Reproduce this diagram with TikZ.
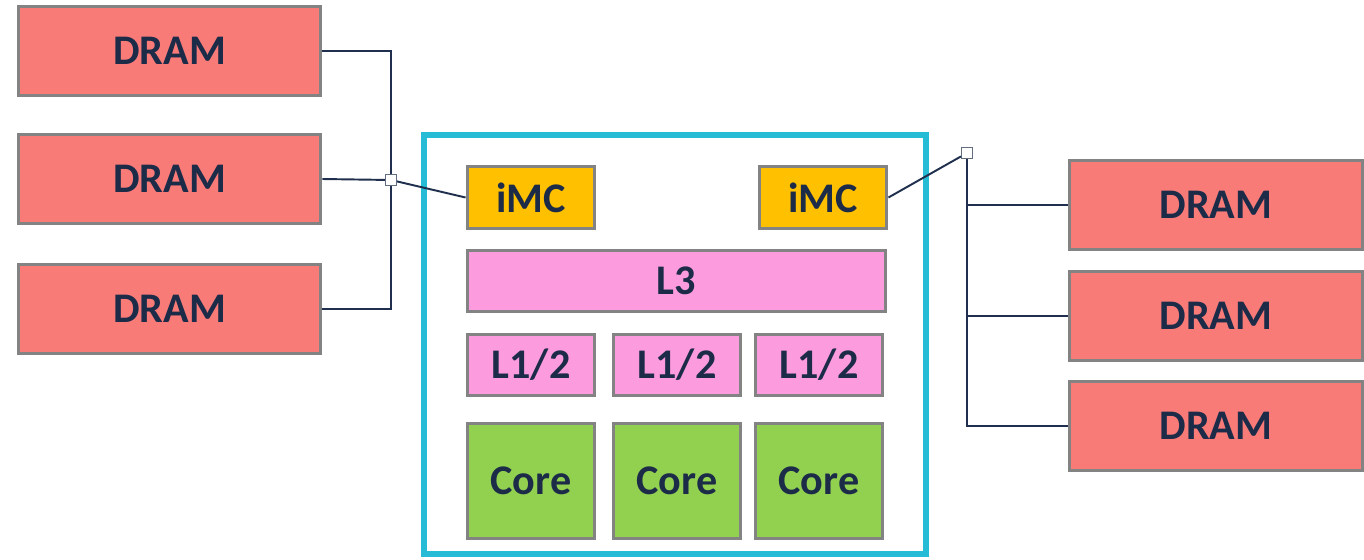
\documentclass[tikz,border=0pt]{standalone}
\usepackage{fontspec}
\setmainfont{Carlito}
\usepackage{xcolor,tikz}
\usetikzlibrary{positioning}
\definecolor{ChipCyan}{HTML}{27BCD6}
\definecolor{BoxGray}{HTML}{838383}
\definecolor{DramRed}{HTML}{F97B78}
\definecolor{ImcGold}{HTML}{FFC000}
\definecolor{CachePink}{HTML}{FD9BDF}
\definecolor{CoreGreen}{HTML}{92D050}
\definecolor{WireNavy}{HTML}{1F2F4D}
\definecolor{TextNavy}{HTML}{1B2B48}
\tikzset{every node/.style={font=\bfseries\fontsize{24}{28}\selectfont,text=TextNavy},
 unit/.style={draw=BoxGray,line width=2.2pt,inner sep=0pt,align=center},
 dram/.style={unit,fill=DramRed,minimum width=60.4mm,minimum height=17.8mm},
 imc/.style={unit,fill=ImcGold,minimum width=25.4mm,minimum height=12.4mm},
 cache/.style={unit,fill=CachePink,minimum width=25.4mm,minimum height=12.2mm},
 core/.style={unit,fill=CoreGreen,minimum width=25.4mm,minimum height=23mm},
 hub/.style={draw=WireNavy!70,fill=white,line width=.6pt,minimum size=2.2mm,inner sep=0pt},
 wire/.style={draw=WireNavy,line width=1.1pt}}

\begin{document}
\begin{tikzpicture}[x=.2mm,y=-.2mm]
\useasboundingbox (0,0) rectangle (1364,559);
% socket
\node[draw=ChipCyan,line width=3pt,minimum width=100.4mm,minimum height=83.8mm,inner sep=0pt] (chip) at (675,344.5){};
\node[imc] (imcL) at (531,197.5){iMC};
\node[imc] (imcR) at (823,197.5){iMC};
\node[cache,minimum width=83.6mm] (l3) at (676.5,281){L3};
\foreach \i/\x in {1/531,2/677,3/819}
 {\node[cache] (l\i) at (\x,365){L1/2};
  \node[core] (core\i) at (\x,481){Core};}
% memory
\foreach \i/\y in {1/51,2/179,3/309}
 {\node[dram] (dl\i) at (169.5,\y){DRAM};}
\foreach \i/\y in {1/205,2/316,3/426}
 {\node[dram,minimum width=58.6mm] (dr\i) at (1216,\y){DRAM};}
\node[hub] (hubL) at (391,180){};
\node[hub] (hubR) at (967,153){};
% channels
\draw[wire] (dl1.east) -| (hubL);
\draw[wire] (dl3.east) -| (hubL);
\draw[wire] (dl2.east) -- (hubL);
\draw[wire] (hubL) -- (imcL.west);
\draw[wire] (imcR.east) -- (hubR);
\foreach \i in {1,2,3}
 {\draw[wire] (hubR) |- (dr\i.west);}
\end{tikzpicture}
\end{document}
